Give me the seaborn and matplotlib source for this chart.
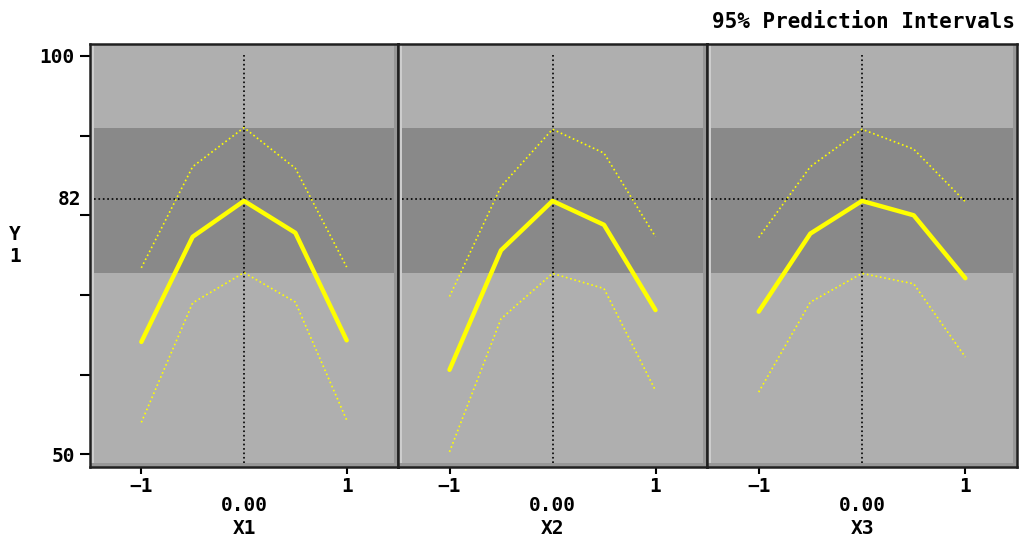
import numpy as np
import pandas as pd
import matplotlib.pyplot as plt
import seaborn as sns
from matplotlib.patches import Rectangle

# factor levels (coded) and the read-off predictions per factor
x_levels = [-1, -0.5, 0, 0.5, 1]
factors = ['X1', 'X2', 'X3']

pred_x1 = [64.1, 77.3, 81.8, 77.8, 64.3]
upper_x1 = [73.4, 86.1, 91.0, 85.9, 73.5]
lower_x1 = [54.0, 69.0, 72.8, 69.1, 54.3]

pred_x2 = [60.6, 75.6, 81.8, 78.8, 68.1]
upper_x2 = [69.8, 83.6, 90.8, 87.8, 77.3]
lower_x2 = [50.3, 67.0, 72.7, 70.8, 58.0]

pred_x3 = [67.9, 77.7, 81.8, 80.0, 72.1]
upper_x3 = [77.2, 86.1, 90.8, 88.3, 81.7]
lower_x3 = [57.8, 69.1, 72.7, 71.4, 62.2]

current_y = 82
band_lo, band_hi = 72.7, 91.0
y_ticks = [50, 60, 70, 80, 90, 100]
y_labels = ['50', '', '', '', '', '100']

rows = []
for f, p, u, l in zip(factors, [pred_x1, pred_x2, pred_x3],
                      [upper_x1, upper_x2, upper_x3],
                      [lower_x1, lower_x2, lower_x3]):
    for i, x in enumerate(x_levels):
        rows.append({'factor': f, 'x': x, 'kind': 'pred', 'y': p[i]})
        rows.append({'factor': f, 'x': x, 'kind': 'upper', 'y': u[i]})
        rows.append({'factor': f, 'x': x, 'kind': 'lower', 'y': l[i]})
df = pd.DataFrame(rows)

sns.set_style('white')
plt.rcParams['font.family'] = ['DejaVu Sans Mono', 'DejaVu Sans']
plt.rcParams['font.weight'] = 'bold'
plt.rcParams['text.color'] = 'black'
plt.rcParams['xtick.color'] = 'black'
plt.rcParams['ytick.color'] = 'black'
plt.rcParams['axes.labelcolor'] = 'black'

fig = plt.figure(figsize=(10.22, 5.43), dpi=100)
W, H = 1022, 543
edges = [90, 398, 707, 1017]

light = '#afafaf'
dark = '#898989'

for k, f in enumerate(factors):
    w = edges[k + 1] - edges[k]
    ax = fig.add_axes([edges[k] / W, 76 / H, w / W, 423 / H])
    ax.set_facecolor(light)
    ax.set_xlim(-1.5, 1.5)
    ax.set_ylim(48.4, 101.5)
    # bevel strips: light on the left, darker on the right and bottom
    bw = 4 / w
    ax.add_patch(Rectangle((0, 0), bw, 1, transform=ax.transAxes,
                           facecolor='#cdcdcd', edgecolor='none', zorder=0))
    ax.add_patch(Rectangle((1 - bw, 0), bw, 1, transform=ax.transAxes,
                           facecolor='#979797', edgecolor='none', zorder=0))
    ax.add_patch(Rectangle((0, 0), 1, 4 / 423, transform=ax.transAxes,
                           facecolor='#979797', edgecolor='none', zorder=0))
    ax.axhspan(band_lo, band_hi, xmin=bw, xmax=1 - bw, color=dark, zorder=0.5, lw=0)

    ax.axvline(0, color='black', ls=':', lw=1.2, ymin=0.01, ymax=0.975, zorder=1)
    ax.axhline(current_y, xmin=bw, xmax=1 - bw, color='black', ls=':', lw=1.2, zorder=1)

    sub = df[df['factor'] == f]
    sns.lineplot(data=sub[sub['kind'] == 'pred'], x='x', y='y', ax=ax,
                 color='#ffff00', lw=3.2, zorder=3)
    for kind in ['upper', 'lower']:
        sns.lineplot(data=sub[sub['kind'] == kind], x='x', y='y', ax=ax,
                     color='#ffff00', lw=1.2, ls=':', zorder=2)

    for s in ax.spines.values():
        s.set_color('#202020')
        s.set_linewidth(1.8)

    ax.set_xticks([-1, 1])
    ax.set_xticklabels(['\u22121', '1'], fontsize=14, fontweight='bold')
    ax.tick_params(axis='x', direction='out', length=5, width=1.5, bottom=True, pad=2)
    ax.set_xlabel('0.00\n' + f, fontsize=14, fontweight='bold', labelpad=0,
                  linespacing=1.3)

    if k == 0:
        ax.set_yticks(y_ticks)
        ax.set_yticklabels(y_labels, fontsize=14, fontweight='bold')
        ax.tick_params(axis='y', direction='out', length=7, width=1.5, left=True, pad=4)
        ax.text(-0.03, current_y, '82', transform=ax.get_yaxis_transform(),
                ha='right', va='center', fontsize=14, fontweight='bold')
    else:
        ax.set_yticks([])
    ax.set_ylabel('')

fig.text(15 / W, 1 - 245 / H, 'Y\n1', ha='center', va='center', fontsize=14,
         fontweight='bold', linespacing=1.2)
fig.text(1015 / W, 1 - 22 / H, '95% Prediction Intervals', ha='right', va='center',
         fontsize=15, fontweight='bold')

fig.savefig('out.png', dpi=100)
